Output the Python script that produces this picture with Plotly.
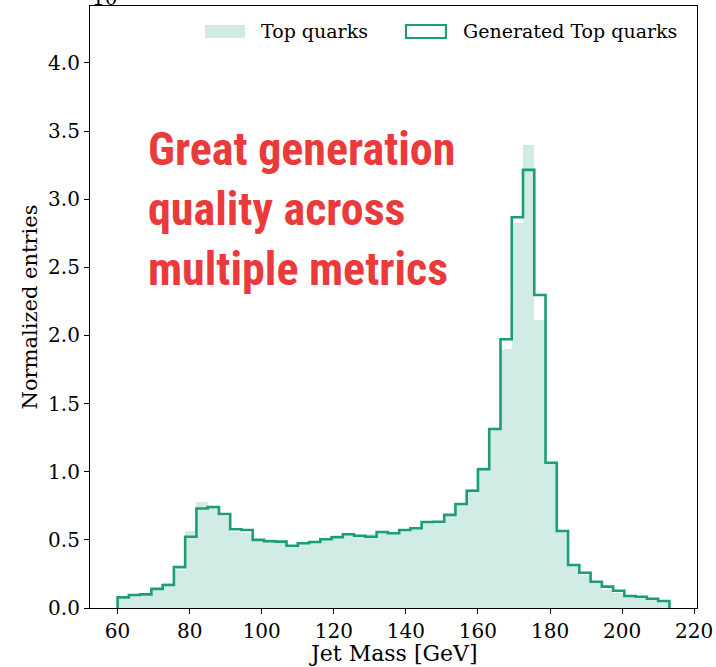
import numpy as np
import plotly.graph_objects as go

# Bin edges: 49 bins of width 3.125 GeV starting at 60 GeV
bin_start = 60.0
bin_width = 3.125
n_bins = 49

# Normalized entries (in units of 1e-2)
top_quarks = [0.08, 0.105, 0.105, 0.145, 0.185, 0.28, 0.567, 0.776, 0.727, 0.675,
              0.56, 0.55, 0.50, 0.51, 0.49, 0.46, 0.48, 0.49, 0.51, 0.536,
              0.54, 0.53, 0.54, 0.555, 0.555, 0.575, 0.59, 0.635, 0.64, 0.69,
              0.77, 0.87, 1.033, 1.31, 1.90, 2.823, 3.398, 2.114, 1.07, 0.57,
              0.31, 0.24, 0.18, 0.135, 0.11, 0.09, 0.08, 0.065, 0.05]
generated = [0.078, 0.095, 0.10, 0.14, 0.169, 0.30, 0.523, 0.73, 0.74, 0.69,
             0.578, 0.572, 0.50, 0.49, 0.487, 0.457, 0.475, 0.484, 0.504, 0.519,
             0.541, 0.530, 0.523, 0.558, 0.548, 0.572, 0.585, 0.631, 0.633, 0.683,
             0.763, 0.860, 1.018, 1.314, 1.972, 2.867, 3.215, 2.297, 1.066, 0.565,
             0.316, 0.259, 0.193, 0.157, 0.127, 0.088, 0.083, 0.068, 0.051]

x_ticks = [60, 80, 100, 120, 140, 160, 180, 200, 220]
y_ticks = [0.0, 0.5, 1.0, 1.5, 2.0, 2.5, 3.0, 3.5, 4.0]

legend_labels = ["Top quarks", "Generated Top quarks"]
x_label = "Jet Mass [GeV]"
y_label = "Normalized entries"
headline = "Great generation<br>quality across<br>multiple metrics"

GREEN = "#1b9e77"
FILL = "#d1ece4"
SERIF = "DejaVu Serif"

edges = bin_start + bin_width * np.arange(n_bins + 1)
centers = (edges[:-1] + edges[1:]) / 2

# step outline path
step_x = [edges[0]] + list(edges[:-1]) + [edges[-1]]
step_y = [0] + list(generated) + [0]

span = edges[-1] - edges[0]
x_range = [edges[0] - 0.05 * span, edges[-1] + 0.05 * span]
y_range = [0, 1.3 * max(top_quarks)]

fig = go.Figure()
fig.add_trace(go.Bar(x=centers, y=top_quarks, width=bin_width,
                     marker=dict(color=FILL, line=dict(width=0)),
                     name=legend_labels[0], showlegend=False))
fig.add_trace(go.Scatter(x=step_x, y=step_y, mode="lines", line_shape="hv",
                         line=dict(color=GREEN, width=2.6),
                         name=legend_labels[1], showlegend=False))

W, H = 716, 667
ml, mr, mt, mb = 90, 19, 6, 59
pw, ph = W - ml - mr, H - mt - mb

def px(x):
    return (x - ml) / pw

def py(y):
    return (H - mb - y) / ph

axis_common = dict(showline=True, linecolor="black", linewidth=1.2, mirror=True,
                   ticks="outside", ticklen=5, tickwidth=1.2, tickcolor="black",
                   showgrid=False, zeroline=False, automargin=False,
                   tickfont=dict(family=SERIF, size=20, color="black"))

fig.update_layout(
    width=W, height=H,
    margin=dict(l=ml, r=mr, t=mt, b=mb),
    paper_bgcolor="white", plot_bgcolor="white",
    bargap=0, showlegend=False,
    xaxis=dict(range=x_range, tickvals=x_ticks, ticktext=[str(v) for v in x_ticks],
               **axis_common),
    yaxis=dict(range=y_range, tickvals=y_ticks, ticktext=[f"{v:.1f}" for v in y_ticks],
               title=dict(text=y_label, font=dict(family=SERIF, size=21, color="black"), standoff=4),
               **axis_common),
)

# x-axis title
fig.add_annotation(xref="paper", yref="paper", x=0.5, y=py(653), xanchor="center",
                   yanchor="middle", showarrow=False, text=x_label, borderpad=0,
                   font=dict(family=SERIF, size=22, color="black"))

# legend drawn manually (matplotlib-style rectangular patches)
fig.add_shape(type="rect", xref="paper", yref="paper",
              x0=px(205), x1=px(245), y0=py(38), y1=py(25),
              fillcolor=FILL, line=dict(width=0))
fig.add_shape(type="rect", xref="paper", yref="paper",
              x0=px(406), x1=px(446), y0=py(38), y1=py(25),
              fillcolor="white", line=dict(color=GREEN, width=2.2))
fig.add_annotation(xref="paper", yref="paper", x=px(259), y=py(31), xanchor="left",
                   yanchor="middle", showarrow=False, text=legend_labels[0],
                   font=dict(family=SERIF, size=19, color="black"))
fig.add_annotation(xref="paper", yref="paper", x=px(461), y=py(31), xanchor="left",
                   yanchor="middle", showarrow=False, text=legend_labels[1],
                   font=dict(family=SERIF, size=19, color="black"))

# offset text (scale factor), mostly cut off at the top as in the original
fig.add_annotation(xref="paper", yref="paper", x=0, y=1, xanchor="left", yanchor="bottom",
                   yshift=-6, showarrow=False, text="10<sup>−2</sup>",
                   font=dict(family=SERIF, size=20, color="black"))

# headline
fig.add_annotation(xref="paper", yref="paper", x=px(146), y=py(209), xanchor="left",
                   yanchor="middle", align="left", showarrow=False, text="<b>" + headline + "</b>",
                   font=dict(family="Roboto Condensed, Liberation Sans Narrow, DejaVu Sans Condensed, Roboto",
                             size=46, color="#E93A3C"))

fig.write_html("out.html")
